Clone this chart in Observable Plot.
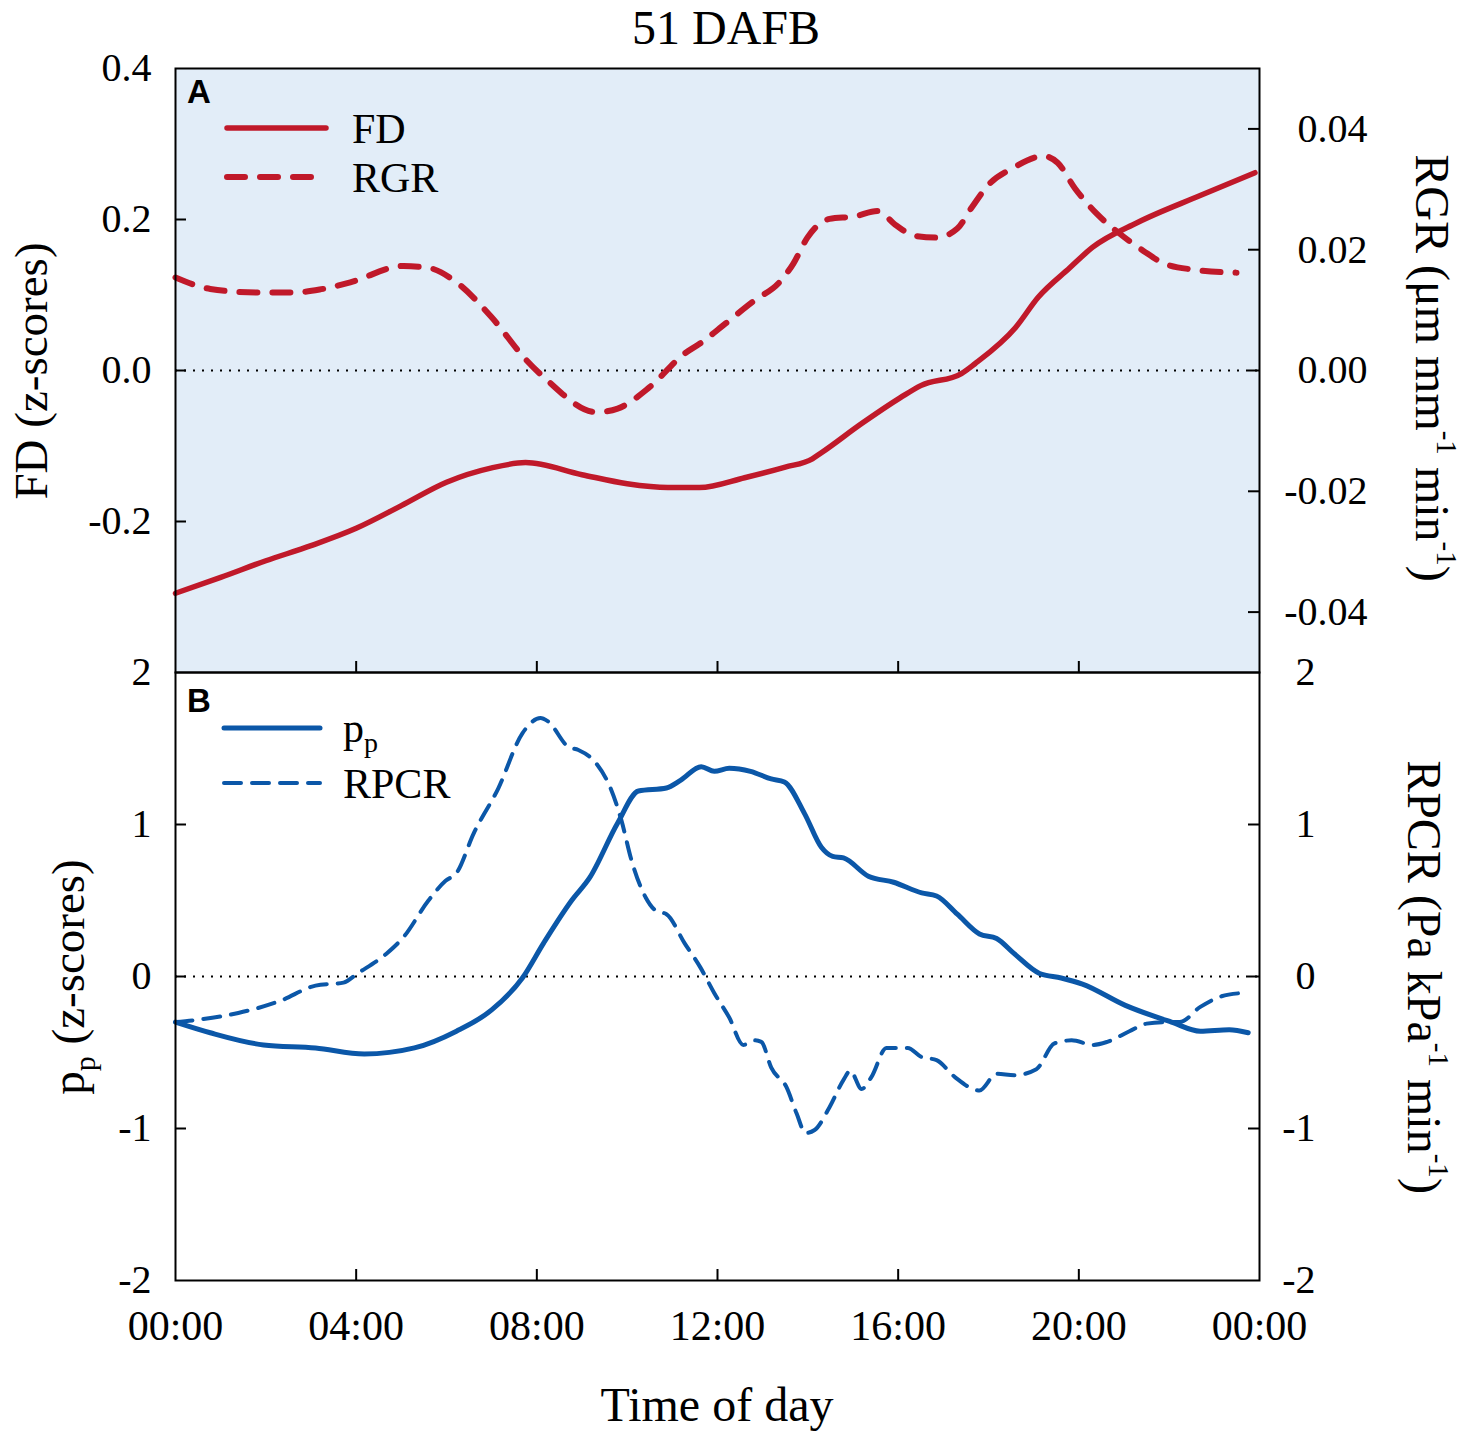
<!DOCTYPE html>
<html>
<head>
<meta charset="utf-8">
<script src="https://cdn.jsdelivr.net/npm/d3@7"></script>
<script src="https://cdn.jsdelivr.net/npm/@observablehq/plot@0.6"></script>
<style>
  html, body { margin: 0; padding: 0; background: white; }
  #wrap { position: relative; width: 1475px; height: 1442px; overflow: hidden; background: white; }
  #wrap svg { position: absolute; left: 0; }
</style>
</head>
<body>
<div id="wrap"></div>
<script>
// ---------- DATA ----------
const fdHours = [0,1,2,3,4,5,6,7,7.75,9,10,10.9,11.6,12.6,13.5,14.1,14.3,15.2,16.05,16.5,17.4,17.7,18.6,19.1,19.8,20.3,21.3,22.7,23.9];
const fdValues = [-0.295,-0.274,-0.252,-0.232,-0.209,-0.179,-0.148,-0.129,-0.122,-0.138,-0.150,-0.155,-0.155,-0.142,-0.128,-0.117,-0.109,-0.070,-0.036,-0.020,-0.004,0.009,0.057,0.097,0.136,0.163,0.196,0.232,0.262];

const rgrHours = [0,0.77,1.79,2.57,3.19,3.87,5.05,5.6,6.22,7.0,7.77,8.24,9.32,9.79,10.49,11.27,11.62,12.18,12.82,13.37,13.68,13.99,14.48,15.03,15.54,15.96,16.36,16.85,17.31,17.62,18.02,18.51,19.22,19.53,19.92,20.39,20.88,21.43,21.89,22.54,23.49];
const rgrValues = [0.0154,0.0135,0.0129,0.0129,0.0134,0.0146,0.0173,0.0170,0.0146,0.0088,0.0017,-0.0017,-0.0069,-0.0063,-0.0028,0.0028,0.0045,0.0078,0.0116,0.0146,0.0177,0.0220,0.0251,0.0255,0.0264,0.0240,0.0223,0.0220,0.0235,0.0269,0.0309,0.0334,0.0355,0.0344,0.0301,0.0260,0.0228,0.0198,0.0177,0.0167,0.0162];

const ppHours = [0,0.77,1.95,3.10,4.18,5.29,6.22,7.0,7.68,8.15,8.77,9.17,9.79,10.25,10.87,11.18,11.64,11.93,12.26,12.73,13.19,13.48,13.93,14.30,14.55,14.79,15.34,15.90,16.52,16.85,17.31,17.80,18.18,18.57,19.13,19.61,20.08,21.03,22.05,22.69,23.33,23.75];
const ppValues = [-0.30,-0.37,-0.45,-0.47,-0.51,-0.47,-0.36,-0.22,-0.01,0.22,0.50,0.65,1.01,1.22,1.24,1.29,1.38,1.35,1.37,1.35,1.30,1.28,1.07,0.85,0.79,0.78,0.66,0.62,0.55,0.53,0.41,0.28,0.25,0.15,0.02,-0.01,-0.05,-0.19,-0.30,-0.36,-0.35,-0.37];

const rpcrHours = [0,0.62,1.39,2.32,3.10,3.72,4.03,4.67,5.05,5.60,5.98,6.22,6.60,7.15,7.68,8.08,8.24,8.70,8.92,9.32,9.63,9.87,10.10,10.41,10.65,10.87,11.27,11.62,11.93,12.26,12.57,12.82,12.97,13.19,13.53,13.75,13.95,14.15,14.48,14.79,14.94,15.19,15.41,15.74,16.21,16.52,16.85,17.25,17.80,18.18,18.57,19.06,19.46,19.84,20.32,20.63,21.12,21.50,21.90,22.23,22.69,23.16,23.56];
const rpcrValues = [-0.30,-0.28,-0.24,-0.16,-0.06,-0.04,0.02,0.15,0.26,0.50,0.63,0.68,0.94,1.24,1.60,1.70,1.68,1.51,1.49,1.40,1.24,1.03,0.76,0.52,0.43,0.41,0.22,0.06,-0.11,-0.27,-0.45,-0.42,-0.43,-0.60,-0.73,-0.90,-1.03,-1.01,-0.86,-0.68,-0.62,-0.74,-0.66,-0.47,-0.47,-0.53,-0.55,-0.66,-0.75,-0.64,-0.65,-0.61,-0.44,-0.42,-0.45,-0.43,-0.36,-0.31,-0.30,-0.30,-0.20,-0.13,-0.11];

const hourTicks = [0,4,8,12,16,20,24];
const fdTicks = [0.4,0.2,0.0,-0.2];
const rgrTicks = [0.04,0.02,0.00,-0.02,-0.04];
const bTicks = [2,1,0,-1,-2];

// ---------- STYLE / LAYOUT ----------
const RED = "#C0192A", BLUE = "#0B57A8", BG = "#E2EDF8";
const SERIF = "Liberation Serif, 'Times New Roman', serif";
const SANS = "Liberation Sans, Arial, sans-serif";
const W = 1475, ML = 175, MR = 216;
const PW = W - ML - MR;
const RGR_K = 0.4 / 0.05; // right-axis (RGR) to left-axis (FD) factor
const curve = "monotone-x";

const fd = fdHours.map((h, i) => ({h, v: fdValues[i]}));
const rgr = rgrHours.map((h, i) => ({h, v: rgrValues[i]}));
const pp = ppHours.map((h, i) => ({h, v: ppValues[i]}));
const rpcr = rpcrHours.map((h, i) => ({h, v: rpcrValues[i]}));

const wrap = document.getElementById("wrap");

// ---------- PANEL A ----------
const A_H = 690, A_MT = 68, A_MB = 18, A_PH = A_H - A_MT - A_MB;
const plotA = Plot.plot({
  width: W, height: A_H,
  marginLeft: ML, marginRight: MR, marginTop: A_MT, marginBottom: A_MB,
  style: {fontFamily: SERIF, fontSize: "40px", background: "transparent", overflow: "visible", color: "black"},
  x: {domain: [0, 24], axis: null},
  y: {domain: [-0.4, 0.4], axis: null},
  marks: [
    Plot.frame({fill: BG, stroke: null}),
    Plot.ruleY([0], {stroke: "black", strokeWidth: 2, strokeDasharray: "2,7"}),
    Plot.line(rgr, {x: "h", y: d => d.v * RGR_K, stroke: RED, strokeWidth: 6, strokeDasharray: "18,15", strokeLinecap: "round", curve}),
    Plot.line(fd, {x: "h", y: "v", stroke: RED, strokeWidth: 5.5, strokeLinecap: "round", curve}),
    Plot.tickY(fdTicks.slice(1), {y: d => d, stroke: "black", strokeWidth: 2, insetRight: PW - 11}),
    Plot.tickY(rgrTicks, {y: d => d * RGR_K, stroke: "black", strokeWidth: 2, insetLeft: PW - 11}),
    Plot.tickX(hourTicks.slice(1, -1), {x: d => d, stroke: "black", strokeWidth: 2, insetTop: A_PH - 11}),
    Plot.axisY({anchor: "left", ticks: fdTicks, tickFormat: d => d.toFixed(1), tickSize: 0, tickPadding: 24, label: null}),
    Plot.axisY({anchor: "right", ticks: rgrTicks.map(d => d * RGR_K), tickFormat: d => (d / RGR_K).toFixed(2), tickSize: 0, tickPadding: 0, textAnchor: "end", dx: 108, label: null}),
    Plot.frame({stroke: "black", strokeWidth: 2})
  ]
});
plotA.style.top = "0px";
wrap.appendChild(plotA);

// ---------- PANEL B ----------
const B_TOP = 640, B_H = 802, B_MT = 32, B_MB = 162, B_PH = B_H - B_MT - B_MB;
const plotB = Plot.plot({
  width: W, height: B_H,
  marginLeft: ML, marginRight: MR, marginTop: B_MT, marginBottom: B_MB,
  style: {fontFamily: SERIF, fontSize: "40px", background: "transparent", overflow: "visible", color: "black"},
  x: {domain: [0, 24], axis: null},
  y: {domain: [-2, 2], axis: null},
  marks: [
    Plot.ruleY([0], {stroke: "black", strokeWidth: 2, strokeDasharray: "2,7"}),
    Plot.line(rpcr, {x: "h", y: "v", stroke: BLUE, strokeWidth: 4, strokeDasharray: "17,11", strokeLinecap: "round", curve}),
    Plot.line(pp, {x: "h", y: "v", stroke: BLUE, strokeWidth: 5, strokeLinecap: "round", curve}),
    Plot.tickY(bTicks.slice(1, -1), {y: d => d, stroke: "black", strokeWidth: 2, insetRight: PW - 11}),
    Plot.tickY(bTicks.slice(1, -1), {y: d => d, stroke: "black", strokeWidth: 2, insetLeft: PW - 11}),
    Plot.tickX(hourTicks.slice(1, -1), {x: d => d, stroke: "black", strokeWidth: 2, insetTop: B_PH - 11}),
    Plot.axisY({anchor: "left", ticks: bTicks, tickFormat: d => String(d), tickSize: 0, tickPadding: 24, label: null}),
    Plot.axisY({anchor: "right", ticks: bTicks, tickFormat: d => String(d), tickSize: 0, tickPadding: 0, textAnchor: "end", dx: 56, label: null}),
    Plot.axisX({anchor: "bottom", ticks: hourTicks, tickFormat: h => String(h % 24).padStart(2, "0") + ":00", tickSize: 0, tickPadding: 30, fontSize: 42, label: null}),
    Plot.frame({stroke: "black", strokeWidth: 2})
  ]
});
plotB.style.top = B_TOP + "px";
wrap.appendChild(plotB);

// ---------- TEXT & LEGENDS ----------
function addRich(svg, {x, y, rotate = 0, size = 46, anchor = "middle", family = SERIF, weight = "normal", runs}) {
  const t = d3.select(svg).append("text")
    .attr("transform", `translate(${x},${y}) rotate(${rotate})`)
    .attr("text-anchor", anchor)
    .attr("font-family", family)
    .attr("font-weight", weight)
    .attr("font-size", size)
    .attr("fill", "black");
  let cur = 0;
  for (const r of runs) {
    const off = r.off || 0;
    t.append("tspan")
      .attr("dy", off - cur)
      .attr("font-size", r.size || size)
      .text(r.text);
    cur = off;
  }
  return t;
}
function legendLine(svg, x1, x2, y, color, width, dash) {
  const l = d3.select(svg).append("line")
    .attr("x1", x1).attr("x2", x2).attr("y1", y).attr("y2", y)
    .attr("stroke", color).attr("stroke-width", width).attr("stroke-linecap", "round");
  if (dash) l.attr("stroke-dasharray", dash);
}

// Panel A texts
addRich(plotA, {x: 726, y: 44, size: 48, runs: [{text: "51 DAFB"}]});
addRich(plotA, {x: 47, y: 371, rotate: -90, size: 47, runs: [{text: "FD (z-scores)"}]});
addRich(plotA, {x: 1416, y: 368, rotate: 90, size: 48, runs: [
  {text: "RGR (μm mm"}, {text: "-1", size: 29, off: -21}, {text: " min", off: 0}, {text: "-1", size: 29, off: -21}, {text: ")", off: 0}
]});
addRich(plotA, {x: 187, y: 103, size: 33, anchor: "start", family: SANS, weight: "bold", runs: [{text: "A"}]});
legendLine(plotA, 227, 326, 128, RED, 5.5);
legendLine(plotA, 227, 320, 177, RED, 6, "18,15");
addRich(plotA, {x: 352, y: 143, size: 42, anchor: "start", runs: [{text: "FD"}]});
addRich(plotA, {x: 352, y: 192, size: 42, anchor: "start", runs: [{text: "RGR"}]});

// Panel B texts (local y = page y - 640)
addRich(plotB, {x: 187, y: 72, size: 33, anchor: "start", family: SANS, weight: "bold", runs: [{text: "B"}]});
legendLine(plotB, 224, 320, 88, BLUE, 5);
legendLine(plotB, 224, 320, 143, BLUE, 4, "17,11");
addRich(plotB, {x: 343, y: 102, size: 42, anchor: "start", runs: [{text: "p"}, {text: "p", size: 28, off: 10}]});
addRich(plotB, {x: 343, y: 158, size: 42, anchor: "start", runs: [{text: "RPCR"}]});
addRich(plotB, {x: 84, y: 337, rotate: -90, size: 47, runs: [{text: "p"}, {text: "p", size: 30, off: 11}, {text: " (z-scores)", off: 0}]});
addRich(plotB, {x: 1408, y: 337, rotate: 90, size: 48, runs: [
  {text: "RPCR (Pa kPa"}, {text: "-1", size: 29, off: -21}, {text: " min", off: 0}, {text: "-1", size: 29, off: -21}, {text: ")", off: 0}
]});
addRich(plotB, {x: 717, y: 781, size: 48, runs: [{text: "Time of day"}]});
</script>
</body>
</html>
